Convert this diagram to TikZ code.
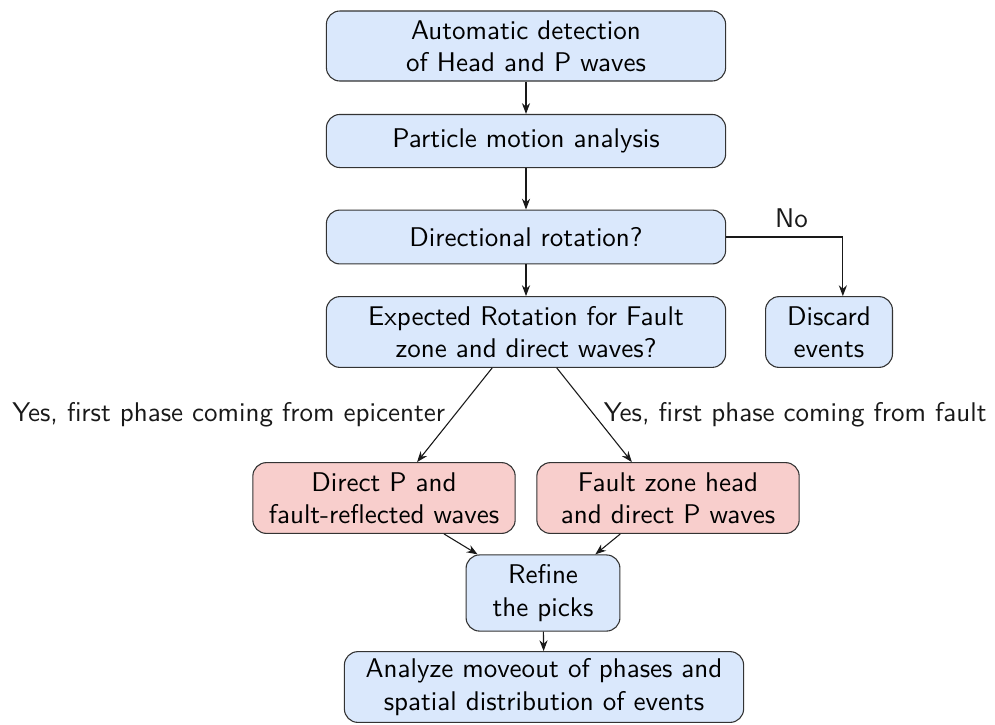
\documentclass[tikz,border=0pt]{standalone}
\usepackage{tikz}
\usetikzlibrary{arrows.meta}
\renewcommand{\familydefault}{\sfdefault}
\definecolor{boxblue}{RGB}{218,232,252}
\definecolor{boxred}{RGB}{248,206,204}
\tikzset{
  flowbox/.style={rectangle,rounded corners=5pt,draw=black!80,fill=boxblue,align=center,font=\sffamily,inner sep=2pt},
  pickbox/.style={flowbox,fill=boxred},
  flowarrow/.style={-{Stealth[length=4pt,width=3pt]},black!90}
}
\begin{document}
\begin{tikzpicture}[x=0.013cm,y=-0.013cm]
  \useasboundingbox (0,0) rectangle (995,724);
  \node [flowbox,minimum width=5.19cm,minimum height=0.91cm] (detect) at (526,46) {Automatic detection\\of Head and P waves};
  \node [flowbox,minimum width=5.19cm,minimum height=0.69cm] (motion) at (526,141) {Particle motion analysis};
  \node [flowbox,minimum width=5.19cm,minimum height=0.70cm] (rotation) at (526,237) {Directional rotation?};
  \node [flowbox,minimum width=5.19cm,minimum height=0.92cm] (expected) at (526,332) {Expected Rotation for Fault\\zone and direct waves?};
  \node [flowbox,minimum width=1.65cm,minimum height=0.92cm] (discard) at (829,332) {Discard\\events};
  \node [pickbox,minimum width=3.41cm,minimum height=0.92cm] (direct) at (384,498) {Direct P and\\fault-reflected waves};
  \node [pickbox,minimum width=3.41cm,minimum height=0.92cm] (faulthead) at (668,498) {Fault zone head\\and direct P waves};
  \node [flowbox,minimum width=2.0cm,minimum height=0.99cm] (refine) at (543,593) {Refine\\the picks};
  \node [flowbox,minimum width=5.19cm,minimum height=0.92cm] (analyze) at (544,687) {Analyze moveout of phases and\\spatial distribution of events};

  \draw [flowarrow] (detect) -- (motion);
  \draw [flowarrow] (motion) -- (rotation);
  \draw [flowarrow] (rotation) -- (expected);
  \draw [flowarrow] (rotation.east) -| node[pos=0.28,above,font=\sffamily] {No} ([xshift=0.18cm]discard.north);
  \draw [flowarrow] ([xshift=-0.44cm]expected.south) -- node[midway,left,font=\sffamily] {Yes, first phase coming from epicenter} ([xshift=0.43cm]direct.north);
  \draw [flowarrow] ([xshift=0.40cm]expected.south) -- node[midway,right,font=\sffamily] {Yes, first phase coming from fault} ([xshift=-0.47cm]faulthead.north);
  \draw [flowarrow] ([xshift=0.78cm]direct.south) -- ([xshift=-0.85cm]refine.north);
  \draw [flowarrow] ([xshift=-0.62cm]faulthead.south) -- ([xshift=0.68cm]refine.north);
  \draw [flowarrow] (refine) -- (analyze);
\end{tikzpicture}
\end{document}
